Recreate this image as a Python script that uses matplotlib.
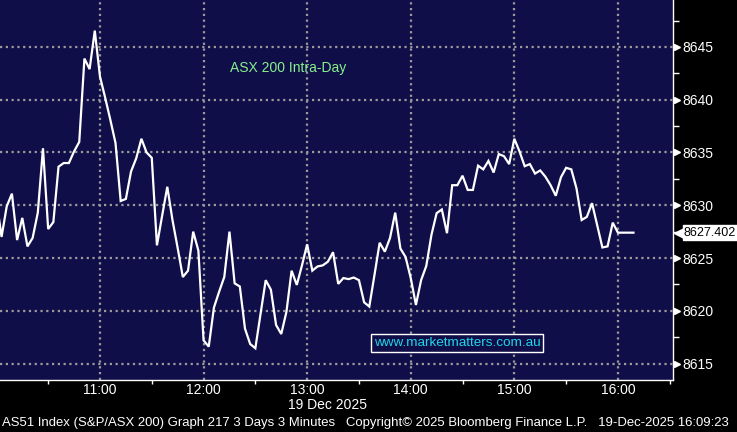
import pandas as pd
import matplotlib
matplotlib.use("Agg")
import matplotlib.pyplot as plt
import matplotlib.dates as mdates
import matplotlib.transforms as mtrans

plt.rcParams['font.family'] = ['Liberation Sans', 'DejaVu Sans']

# 3 minute bars, 19 Dec 2025
start_time = "2025-12-19 10:00"
prices = [
    8630.5, 8627.0, 8629.9, 8631.1, 8626.7, 8628.8, 8626.1, 8626.9, 8629.3, 8635.4,
    8627.75, 8628.4, 8633.65, 8634.0, 8634.0, 8635.1, 8636.0, 8643.9, 8642.9, 8646.55,
    8642.2, 8640.2, 8638.1, 8635.9, 8630.4, 8630.6, 8633.2, 8634.45, 8636.3, 8635.0,
    8634.5, 8626.2, 8629.0, 8631.75, 8628.6, 8625.95, 8623.2, 8623.8, 8627.5, 8625.7,
    8617.2, 8616.6, 8620.3, 8621.8, 8623.2, 8627.5, 8622.6, 8622.3, 8618.3, 8616.85,
    8616.45, 8619.7, 8622.9, 8622.0, 8618.65, 8617.8, 8619.9, 8623.8, 8622.45, 8624.3,
    8626.3, 8623.8, 8624.2, 8624.3, 8624.65, 8625.55, 8622.55, 8623.1, 8623.0, 8623.15,
    8622.9, 8620.8, 8620.4, 8623.4, 8626.45, 8625.6, 8626.9, 8629.3, 8625.9, 8625.1,
    8623.1, 8620.55, 8622.9, 8624.25, 8627.2, 8629.25, 8629.6, 8627.35, 8631.9, 8631.9,
    8632.8, 8631.45, 8631.45, 8633.75, 8633.4, 8634.2, 8633.1, 8634.85, 8634.65, 8633.9,
    8636.3, 8635.1, 8633.7, 8633.9, 8633.0, 8633.3, 8632.7, 8631.9, 8630.9, 8632.65,
    8633.55, 8633.4, 8631.6, 8628.6, 8628.9, 8630.2, 8628.1, 8626.0, 8626.1, 8628.35,
    8627.402, 8627.402, 8627.402, 8627.402,
]
last_price = 8627.402
y_ticks = [8615, 8620, 8625, 8630, 8635, 8640, 8645]
y_minor = [8617.5, 8622.5, 8627.5, 8632.5, 8637.5, 8642.5, 8647.5]

title_text = "ASX 200 Intra-Day"
site_text = "www.marketmatters.com.au"
date_text = "19 Dec 2025"
footer_text = ("AS51 Index (S&P/ASX 200) Graph 217 3 Days 3 Minutes   "
               "Copyright\u00a9 2025 Bloomberg Finance L.P.   19-Dec-2025 16:09:23")

times = pd.date_range(start_time, periods=len(prices), freq="3min")

navy = "#100e48"
grid_col = "#9a9a9a"

fig = plt.figure(figsize=(7.37, 4.32), dpi=100, facecolor="black")
ax = fig.add_axes([0, 52 / 432, 673 / 737, 380 / 432])
ax.set_facecolor(navy)

ax.plot(times, prices, color="white", lw=1.6, solid_joinstyle="miter", zorder=3)

ax.set_xlim(pd.Timestamp("2025-12-19 10:02:06"), pd.Timestamp("2025-12-19 16:31:54"))
ax.set_ylim(8613.44, 8649.45)

# x axis
ax.xaxis.set_major_locator(mdates.HourLocator())
ax.xaxis.set_major_formatter(mdates.DateFormatter("%H:%M"))
ax.xaxis.set_minor_locator(mdates.MinuteLocator(byminute=[30]))
ax.tick_params(axis="x", which="major", length=0, pad=2, labelcolor="white", labelsize=10)
ax.tick_params(axis="x", which="minor", length=3, width=1, color="white", direction="out")

# y axis on the right
ax.yaxis.tick_right()
ax.set_yticks(y_ticks)
ax.set_yticks(y_minor, minor=True)
ax.tick_params(axis="y", which="major", length=0, pad=7, labelcolor="white", labelsize=10)
ax.tick_params(axis="y", which="minor", length=4, width=1, color="white", direction="out")

for s in ["top", "left"]:
    ax.spines[s].set_visible(False)
for s in ["right", "bottom"]:
    ax.spines[s].set_color("white")
    ax.spines[s].set_linewidth(1)

ax.grid(True, which="major", color=grid_col, linestyle=(0, (1, 1.6)), lw=1.6, zorder=1)

# triangle markers on the major y ticks
bt = mtrans.blended_transform_factory(ax.transAxes, ax.transData)
ax.plot([1 + 4 / 673] * len(y_ticks), y_ticks, ls="none", marker=">", ms=5,
        color="white", transform=bt, clip_on=False)

# last price tag
ax.plot([1 + 7 / 673], [last_price], marker="<", ms=9, color="white",
        transform=bt, clip_on=False)
ax.text(1 + 11 / 673, last_price, f"{last_price:.3f}", transform=bt, va="center",
        ha="left", color="black", fontsize=9,
        bbox=dict(boxstyle="square,pad=0.12", fc="white", ec="white"), clip_on=False)

# annotations
ax.text(230 / 673, 1 - 68 / 380, title_text, transform=ax.transAxes, color="#86f08c",
        fontsize=10, va="center", ha="left")
ax.text(457 / 673, 1 - 343 / 380, site_text, transform=ax.transAxes, color="#1fd6e8",
        fontsize=9.7, va="center", ha="center",
        bbox=dict(boxstyle="square,pad=0.2", fc=navy, ec="white", lw=1))

fig.text(328 / 737, 1 - 405 / 432, date_text, color="white", fontsize=10,
         ha="center", va="center")
fig.text(2 / 737, 1 - 423 / 432, footer_text, color="white", fontsize=9.45,
         ha="left", va="center")

fig.savefig("out.png", dpi=100, facecolor="black")
